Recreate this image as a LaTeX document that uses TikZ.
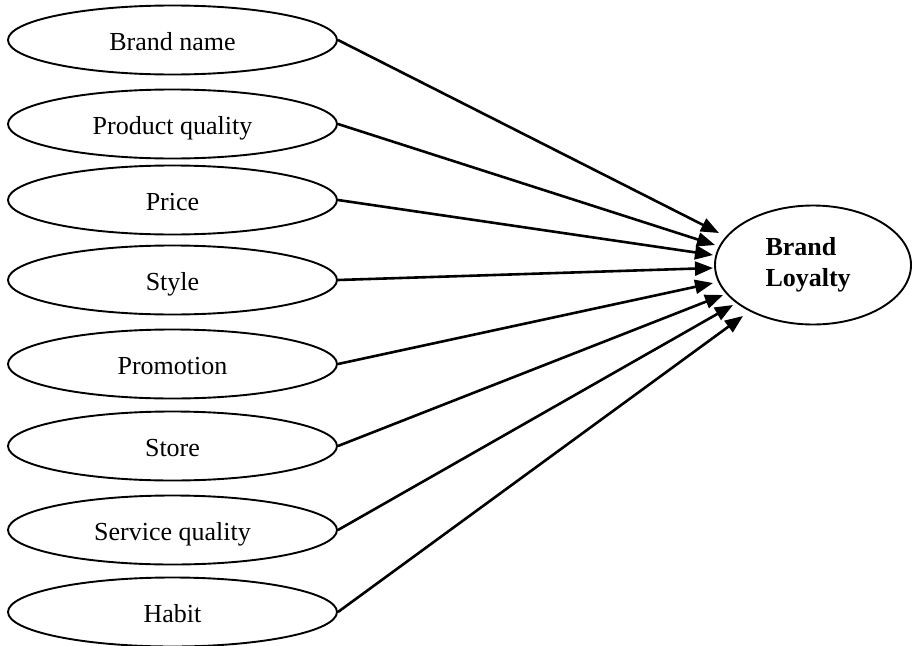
\documentclass[tikz,border=0pt]{standalone}
\usepackage{fontspec}
\setmainfont{Liberation Serif}
\usetikzlibrary{shapes.geometric,arrows.meta}
\tikzset{
  factor/.style={draw, ellipse, line width=1.9pt, minimum width=329pt, minimum height=69pt,
    inner sep=0pt, font=\fontsize{26}{31}\selectfont, text height=20pt, text depth=0pt},
  target/.style={draw, ellipse, line width=1.9pt, minimum width=196pt, minimum height=119pt,
    inner sep=0pt, align=left, text width=95pt, font=\fontsize{26}{31}\selectfont\bfseries},
  link/.style={line width=2.6pt, -{Triangle[length=18pt,width=14pt]}}
}
\begin{document}
\begin{tikzpicture}[x=1pt,y=-1pt]
\useasboundingbox (0,0) rectangle (912,645);
\node[factor] (n1) at (172.5,40) {Brand name};
\node[factor] (n2) at (172.5,124) {Product quality};
\node[factor] (n3) at (172.5,200) {Price};
\node[factor] (n4) at (172.5,280) {Style};
\node[factor] (n5) at (172.5,364) {Promotion};
\node[factor] (n6) at (172.5,446) {Store};
\node[factor] (n7) at (172.5,530) {Service quality};
\node[factor] (n8) at (172.5,612) {Habit};
\node[target] (bl) at (813,265) {Brand\\Loyalty};
\coordinate (t1) at (719,233);
\coordinate (t2) at (715,245);
\coordinate (t3) at (713,255);
\coordinate (t4) at (713,268);
\coordinate (t5) at (713,283);
\coordinate (t6) at (723,295);
\coordinate (t7) at (733,305);
\coordinate (t8) at (743,316);
\draw[link] (n1.east) -- (t1);
\draw[link] (n2.east) -- (t2);
\draw[link] (n3.east) -- (t3);
\draw[link] (n4.east) -- (t4);
\draw[link] (n5.east) -- (t5);
\draw[link] (n6.east) -- (t6);
\draw[link] (n7.east) -- (t7);
\draw[link] (n8.east) -- (t8);
\end{tikzpicture}
\end{document}
